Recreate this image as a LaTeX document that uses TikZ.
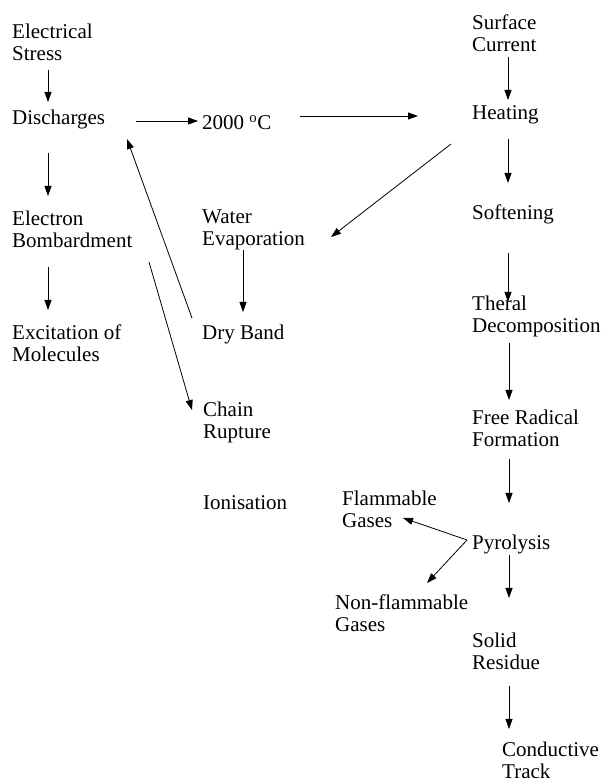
\documentclass[tikz,border=0pt]{standalone}
\usepackage{fontspec}
\setmainfont{Liberation Serif}
\usetikzlibrary{arrows.meta}
\newcommand\twoline[2]{\vtop{\hbox{#1}\hbox{#2}}}
\begin{document}
\begin{tikzpicture}[x=1pt,y=1pt,
  lbl/.style={anchor=base west,inner sep=0pt,font=\fontsize{21}{21.5}\selectfont},
  arr/.style={draw,line width=0.8pt,-{Triangle[length=10pt,width=7pt]}}]
\useasboundingbox (0,0) rectangle (600,778);
% left column
\node[lbl] (es) at (12,739) {\twoline{Electrical}{Stress}};
\node[lbl] (dis) at (12,653) {Discharges};
\node[lbl] (eb) at (12,552) {\twoline{Electron}{Bombardment}};
\node[lbl] (em) at (12,438) {\twoline{Excitation of}{Molecules}};
% middle column
\node[lbl] (tc) at (202,648) {2000 \textsuperscript{o}C};
\node[lbl] (we) at (202,554) {\twoline{Water}{Evaporation}};
\node[lbl] (db) at (202,438) {Dry Band};
\node[lbl] (cr) at (203,361) {\twoline{Chain}{Rupture}};
\node[lbl] (io) at (203,268) {Ionisation};
\node[lbl] (fg) at (342,272) {\twoline{Flammable}{Gases}};
\node[lbl] (nf) at (335,168) {\twoline{Non-flammable}{Gases}};
% right column
\node[lbl] (sc) at (472,748) {\twoline{Surface}{Current}};
\node[lbl] (ht) at (472,658) {Heating};
\node[lbl] (sf) at (472,558) {Softening};
\node[lbl] (td) at (472,467) {\twoline{Theral}{Decomposition}};
\node[lbl] (fr) at (472,353) {\twoline{Free Radical}{Formation}};
\node[lbl] (py) at (472,228) {Pyrolysis};
\node[lbl] (sr) at (472,130) {\twoline{Solid}{Residue}};
\node[lbl] (ct) at (502,21) {\twoline{Conductive}{Track}};
% vertical arrows
\draw[arr] ([shift={(36,-31)}]es.base west) -- ([shift={(36,23)}]dis.base west);
\draw[arr] ([shift={(36,-28)}]dis.base west) -- ([shift={(36,30)}]eb.base west);
\draw[arr] ([shift={(36,-41)}]eb.base west) -- ([shift={(36,30)}]em.base west);
\draw[arr] ([shift={(36,-27)}]sc.base west) -- ([shift={(36,20)}]ht.base west);
\draw[arr] ([shift={(36,-19)}]ht.base west) -- ([shift={(36,37)}]sf.base west);
\draw[arr] ([shift={(36,-33)}]sf.base west) -- ([shift={(36,9)}]td.base west);
\draw[arr] ([shift={(37,-32)}]td.base west) -- ([shift={(37,25)}]fr.base west);
\draw[arr] ([shift={(37,-34)}]fr.base west) -- ([shift={(37,47)}]py.base west);
\draw[arr] ([shift={(37,-5)}]py.base west) -- ([shift={(37,50)}]sr.base west);
\draw[arr] ([shift={(37,-38)}]sr.base west) -- ([shift={(7,28)}]ct.base west);
\draw[arr] ([shift={(41,-26)}]we.base west) -- ([shift={(41,28)}]db.base west);
% other arrows
\draw[arr] ([shift={(124,4)}]dis.base west) -- ([shift={(-4,9)}]tc.base west);
\draw[arr] ([shift={(98,14)}]tc.base west) -- ([shift={(-54,4)}]ht.base west);
\draw[arr] ([shift={(-21,-24)}]ht.base west) -- ([shift={(129,-13)}]we.base west);
\draw[arr] ([shift={(-10,22)}]db.base west) -- ([shift={(115,-14)}]dis.base west);
\draw[arr] ([shift={(137,-36)}]eb.base west) -- ([shift={(-11,7)}]cr.base west);
\draw[arr] ([shift={(-5,10)}]py.base west) -- ([shift={(61,-12)}]fg.base west);
\draw[arr] ([shift={(-5,10)}]py.base west) -- ([shift={(92,27)}]nf.base west);
\end{tikzpicture}
\end{document}
